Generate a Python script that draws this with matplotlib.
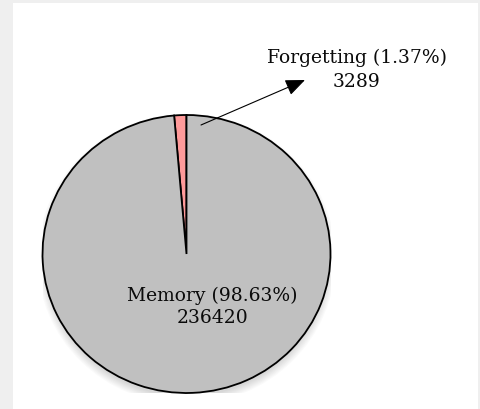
import matplotlib.pyplot as plt
from matplotlib.patches import Rectangle, Ellipse

# datos del grafico
labels = ['Forgetting', 'Memory']
counts = [3289, 236420]
colors = ['#ff9a9a', '#c0c0c0']

W, H = 480, 409
total = sum(counts)
pcts = [100.0 * c / total for c in counts]

plt.rcParams['font.family'] = ['DejaVu Serif']

fig = plt.figure(figsize=(W / 100, H / 100), dpi=100, facecolor='#efefef')

# fondo blanco del panel (coordenadas en pixeles)
bg = fig.add_axes([0, 0, 1, 1])
bg.set_xlim(0, W)
bg.set_ylim(H, 0)
bg.axis('off')
bg.add_patch(Rectangle((13, 3), 465, 406, facecolor='white', edgecolor='none'))

# ejes del pastel, un poco achatado en vertical
cx, cy, rx, ry = 186.5, 254, 144, 139
pie_ax = fig.add_axes([(cx - rx) / W, 1 - (cy + ry) / H, 2 * rx / W, 2 * ry / H])
pie_ax.axis('off')

# sombra suave debajo
for k in range(8):
    pie_ax.add_patch(Ellipse((0, -0.035), 1.96 + k * 0.016, 1.98 + k * 0.016,
                             facecolor='black', edgecolor='none', alpha=0.02, zorder=0))

pie_ax.pie(counts, colors=colors, startangle=90, counterclock=True, radius=1,
           wedgeprops=dict(edgecolor='black', linewidth=1.3), frame=False)
pie_ax.set_xlim(-1, 1)
pie_ax.set_ylim(-1, 1)
pie_ax.set_aspect('auto')

# textos y flecha
top = fig.add_axes([0, 0, 1, 1])
top.set_xlim(0, W)
top.set_ylim(H, 0)
top.axis('off')
top.patch.set_alpha(0)

top.annotate('', xy=(305, 80), xytext=(201, 125),
             arrowprops=dict(arrowstyle='-|>,head_length=1.2,head_width=0.5',
                             color='black', lw=0.8, shrinkA=0, shrinkB=0))

top.text(357, 70, f'{labels[0]} ({pcts[0]:.2f}%)\n{counts[0]}', ha='center', va='center',
         fontsize=13.5, linespacing=1.4, color='#0a0a0a')
top.text(212.5, 307, f'{labels[1]} ({pcts[1]:.2f}%)\n{counts[1]}', ha='center', va='center',
         fontsize=13.5, linespacing=1.25, color='#0a0a0a')

fig.savefig('out.png', dpi=100, facecolor=fig.get_facecolor())
